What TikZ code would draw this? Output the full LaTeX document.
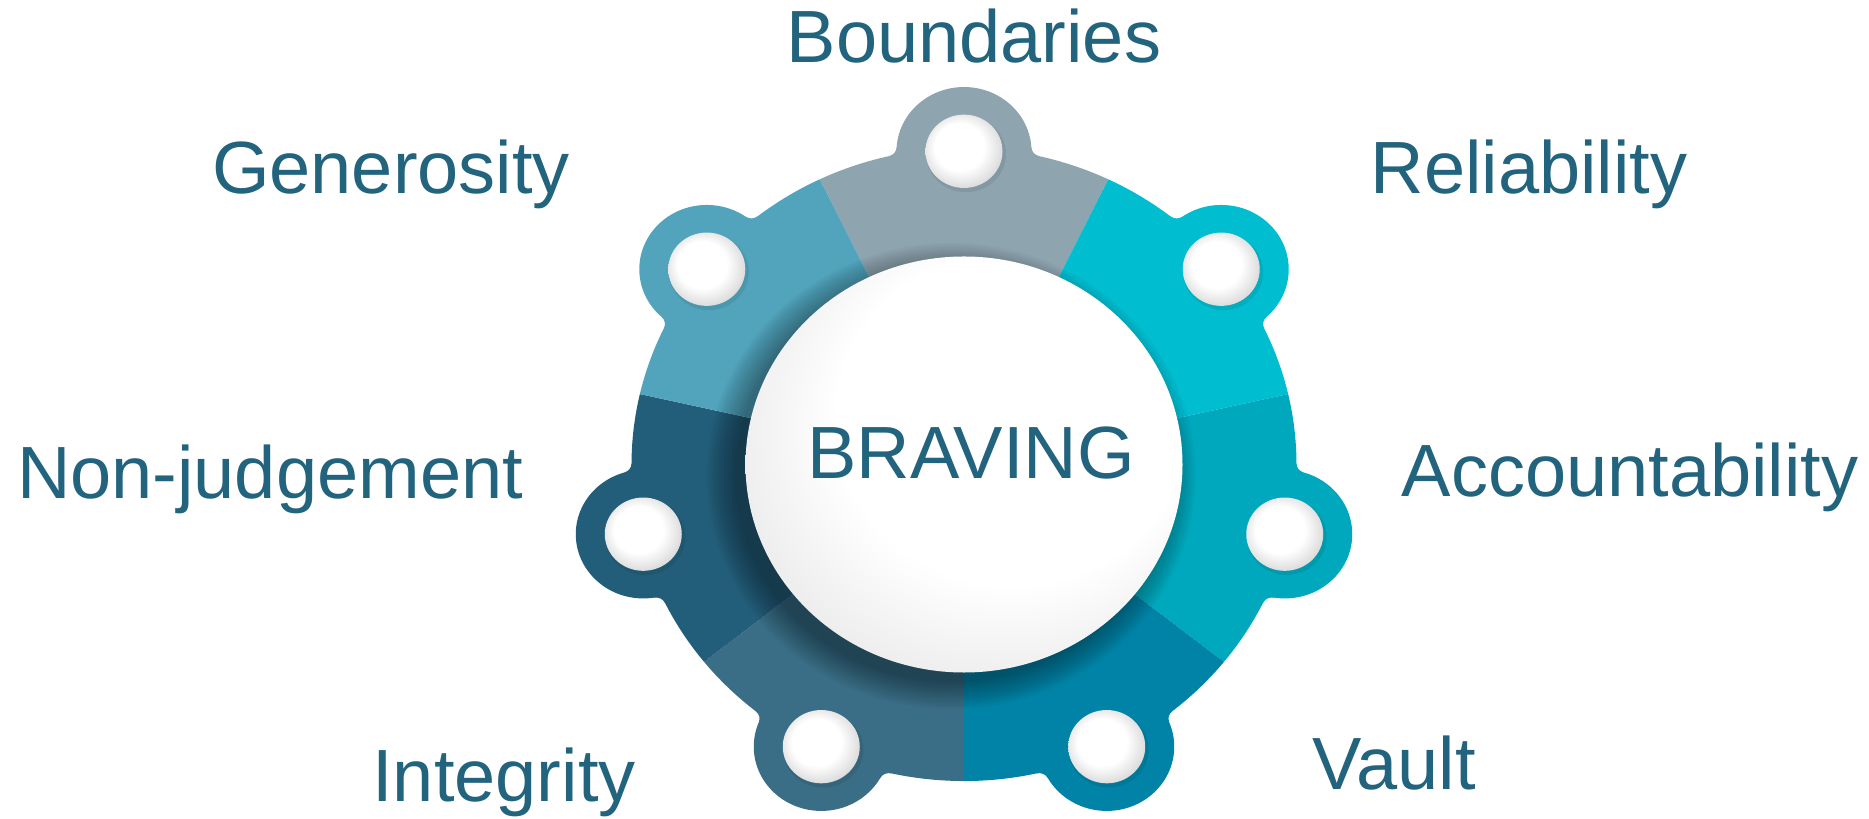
\documentclass[tikz,border=0pt]{standalone}
\usepackage{fontspec}
\setmainfont{Liberation Sans}
\definecolor{txt}{RGB}{34,99,125}
\definecolor{cBound}{RGB}{142,165,176}
\definecolor{cRel}{RGB}{0,189,208}
\definecolor{cAcc}{RGB}{0,168,189}
\definecolor{cVault}{RGB}{0,131,166}
\definecolor{cInt}{RGB}{58,109,134}
\definecolor{cNon}{RGB}{34,94,122}
\definecolor{cGen}{RGB}{82,164,189}
\pgfdeclareradialshading{knobshade}{\pgfpoint{-5bp}{5bp}}{color(0bp)=(white); color(16bp)=(white); color(27bp)=(black!14); color(40bp)=(black!16)}
\pgfdeclareradialshading{bigshade}{\pgfpoint{10bp}{10bp}}{color(0bp)=(white); color(20bp)=(white); color(34bp)=(black!10); color(45bp)=(black!12)}
\tikzset{
  lab/.style={text=txt, font=\fontsize{74}{80}\selectfont, anchor=base, inner sep=0pt},
  knobwhite/.style={shading=knobshade},
}
\begin{document}
\begin{tikzpicture}[x=1pt,y=1pt]
\useasboundingbox (0,0) rectangle (1869,819);
\begin{scope}[shift={(964,354.5)}, yscale=0.952]
  % coloured segments with their knobs and fillets
  \foreach \i/\c in {0/cBound,1/cRel,2/cAcc,3/cVault,4/cInt,5/cNon,6/cGen} {
    \pgfmathsetmacro\a{90-\i*360/7}
    \fill[\c] (0,0) -- (\a+25.714:332.5) arc[start angle=\a+25.714, delta angle=-51.428, radius=332.5] -- cycle;
    \fill[\c] (\a:329) circle[radius=67.5];
    \begin{scope}[rotate=\a-90]
      \fill[\c] (60,320) -- (75.10,323.91) arc[start angle=256.9, end angle=183.4, radius=10] -- (67.38,333.05) -- cycle;
      \fill[\c] (-60,320) -- (-75.10,323.91) arc[start angle=283.1, end angle=356.6, radius=10] -- (-67.38,333.05) -- cycle;
    \end{scope}
  }
  % soft shadow of the centre disc
  \foreach \k in {1,...,14} {
    \fill[black, opacity=0.028] (-13,-12) circle[radius=214+\k*2.2];
  }
  % centre disc
  \shade[shading=bigshade] (0,0) circle[radius=218.5];
  % white inner knobs
  \foreach \i in {0,...,6} {
    \pgfmathsetmacro\a{90-\i*360/7}
    \fill[black, opacity=0.08] (\a:329) ++(2,-3) circle[radius=40];
    \shade[knobwhite] (\a:329) circle[radius=38.5];
  }
\end{scope}
\node[lab] (braving) at (971,340) {BRAVING};
\node[lab] (bound) at (974,756) {Boundaries};
\node[lab] (gen) at (391,625) {Generosity};
\node[lab] (rel) at (1529,625) {Reliability};
\node[lab] (non) at (270,320) {Non-judgement};
\node[lab] (acc) at (1630,322) {Accountability};
\node[lab] (int) at (504,17) {Integrity};
\node[lab] (vault) at (1394,29) {Vault};
\end{tikzpicture}
\end{document}
